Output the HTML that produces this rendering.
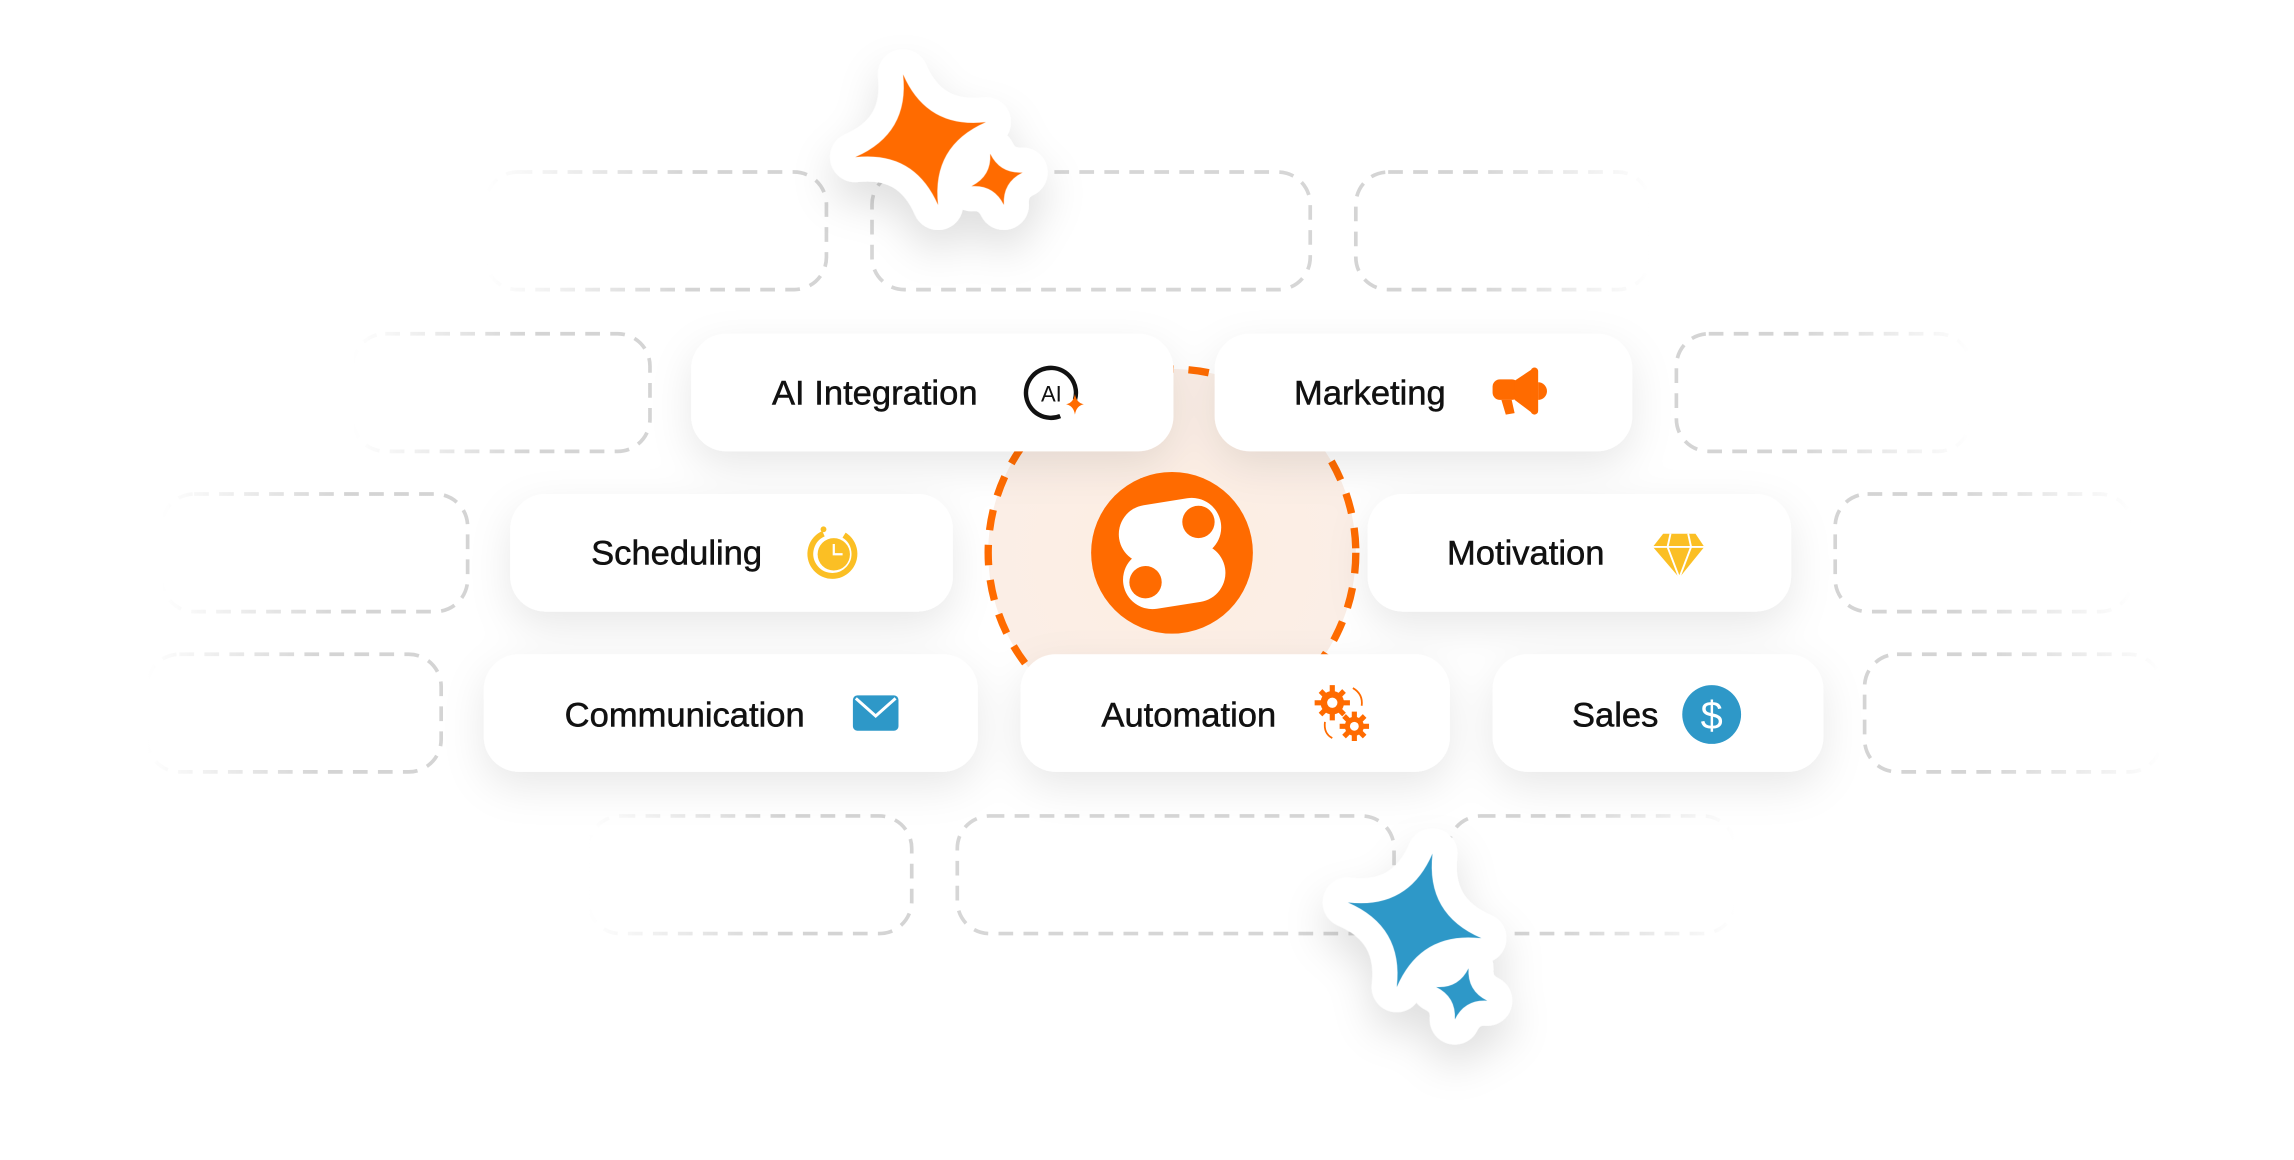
<!DOCTYPE html>
<html><head><meta charset="utf-8"><style>
html,body{margin:0;padding:0;background:#fff;}
svg{display:block;}
text{font-family:"Liberation Sans",sans-serif;font-weight:500;fill:#111;}
.lbl{stroke:#111;stroke-width:0.35;}
</style></head><body>
<svg width="2294" height="1160" viewBox="0 0 1560 789" preserveAspectRatio="none" xmlns="http://www.w3.org/2000/svg">
<defs>
<linearGradient id="fl" x1="0" y1="0" x2="1" y2="0"><stop offset="0" stop-color="#d4d4d4" stop-opacity="0"/><stop offset="0.6" stop-color="#d4d4d4"/><stop offset="1" stop-color="#d4d4d4"/></linearGradient>
<linearGradient id="fr" x1="0" y1="0" x2="1" y2="0"><stop offset="0" stop-color="#d4d4d4"/><stop offset="0.4" stop-color="#d4d4d4"/><stop offset="1" stop-color="#d4d4d4" stop-opacity="0"/></linearGradient>
<radialGradient id="peach" cx="0.5" cy="0.5" r="0.5"><stop offset="0" stop-color="#fdeee3"/><stop offset="1" stop-color="#fbeee6"/></radialGradient>
<filter id="sh" x="-30%" y="-50%" width="160%" height="220%"><feDropShadow dx="0" dy="10" stdDeviation="14" flood-color="#000" flood-opacity="0.09"/></filter>
<filter id="sh2" x="-60%" y="-60%" width="220%" height="240%"><feDropShadow dx="0" dy="14" stdDeviation="14" flood-color="#000" flood-opacity="0.12"/></filter>
</defs>
<rect width="1560" height="789" fill="#fff"/>

<g fill="none" stroke-width="2.5" stroke-dasharray="10 7">
<rect x="330" y="117" width="232" height="80" rx="22" stroke="url(#fl)"/>
<rect x="593" y="117" width="298" height="80" rx="22" stroke="#d6d6d6"/>
<rect x="922" y="117" width="200" height="80" rx="22" stroke="url(#fr)"/>
<rect x="240" y="227" width="202" height="80" rx="22" stroke="url(#fl)"/>
<rect x="1140" y="227" width="200" height="80" rx="22" stroke="url(#fr)"/>
<rect x="110" y="336" width="208" height="80" rx="22" stroke="url(#fl)"/>
<rect x="1248" y="336" width="202" height="80" rx="22" stroke="url(#fr)"/>
<rect x="100" y="445" width="200" height="80" rx="22" stroke="url(#fl)"/>
<rect x="1268" y="445" width="202" height="80" rx="22" stroke="url(#fr)"/>
<rect x="400" y="555" width="220" height="80" rx="22" stroke="url(#fl)"/>
<rect x="651" y="555" width="297" height="80" rx="22" stroke="#d6d6d6"/>
<rect x="985" y="555" width="195" height="80" rx="22" stroke="url(#fr)"/>
</g>

<circle cx="797" cy="376" r="125" fill="url(#peach)" stroke="#ff6b00" stroke-width="5" stroke-dasharray="14 10"/>

<g fill="#fff" filter="url(#sh)">
<rect x="470" y="227" width="328" height="80" rx="24"/>
<rect x="826" y="227" width="284" height="80" rx="24"/>
<rect x="347" y="336" width="301" height="80" rx="24"/>
<rect x="930" y="336" width="288" height="80" rx="24"/>
<rect x="329" y="445" width="336" height="80" rx="24"/>
<rect x="694" y="445" width="292" height="80" rx="24"/>
<rect x="1015" y="445" width="225" height="80" rx="24"/>
</g>

<g font-size="23.5" class="lbl">
<text x="525" y="275">AI Integration</text>
<text x="880" y="275">Marketing</text>
<text x="402" y="384">Scheduling</text>
<text x="984" y="384">Motivation</text>
<text x="384" y="494">Communication</text>
<text x="749" y="494">Automation</text>
<text x="1069" y="494">Sales</text>
</g>

<!-- AI icon -->
<path d="M731 272 A17 17 0 1 0 721 283" fill="none" stroke="#111" stroke-width="3"/>
<text x="715" y="273" font-size="15" font-weight="700" text-anchor="middle">AI</text>
<path d="M731 268 Q732 274 737 275 Q732 276 731 282 Q730 276 725 275 Q730 274 731 268Z" fill="#ff6b00"/>
<!-- megaphone -->
<g fill="#ff6b00">
<rect x="1015" y="258" width="18" height="14" rx="5"/>
<path d="M1030 259 L1042 251 L1042 281 L1030 272Z"/>
<rect x="1041" y="250" width="5" height="32" rx="2.5"/>
<path d="M1046 260 a6 6 0 0 1 0 12Z"/>
<path d="M1021 272 L1028 272 L1030 281 L1024 282Z"/>
</g>
<!-- clock -->
<path d="M574 364 A15 15 0 1 1 560 363" fill="none" stroke="#fbbf24" stroke-width="4"/>
<circle cx="567" cy="377" r="11" fill="#fbbf24"/>
<path d="M567 370 V377 H573" stroke="#fff" stroke-width="1.5" fill="none"/>
<circle cx="560" cy="360" r="2" fill="#fbbf24"/>
<!-- diamond -->
<path d="M1131 363 L1153 363 L1159 372 L1142 393 L1124 372Z" fill="#fbbf24"/>
<path d="M1124 372 H1159 M1136 363 L1134 372 L1142 393 L1150 372 L1148 363" stroke="#fff" stroke-width="1.3" fill="none"/>
<!-- mail -->
<rect x="580" y="473" width="31" height="24" rx="3" fill="#2e98c8"/>
<path d="M582 475 L595.5 487 L609 475" stroke="#fff" stroke-width="2" fill="none"/>
<!-- gears -->
<g fill="#ff6b00">
<circle cx="906" cy="478" r="8"/>
<circle cx="921" cy="494" r="6.5"/>
</g>
<g stroke="#ff6b00" stroke-width="3.5">
<path d="M906 466 V490 M894 478 H918 M898 470 L914 486 M914 470 L898 486"/>
<path d="M921 484 V504 M911 494 H931 M914 487 L928 501 M928 487 L914 501"/>
</g>
<circle cx="906" cy="478" r="3.5" fill="#fff"/>
<circle cx="921" cy="494" r="3" fill="#fff"/>
<path d="M920 468 Q927 472 926 480 M901 491 Q900 499 906 502" stroke="#ff6b00" stroke-width="1.2" fill="none"/>
<!-- dollar -->
<circle cx="1164" cy="486" r="20" fill="#2e98c8"/>
<text x="1164" y="496" font-size="27" font-weight="400" text-anchor="middle" style="fill:#fff">$</text>

<!-- logo -->
<circle cx="797" cy="376" r="55" fill="#ff6b00"/>
<g transform="rotate(-9 797 376)">
<rect x="763" y="341" width="70" height="40" rx="20" fill="#fff"/>
<rect x="761" y="372" width="70" height="40" rx="20" fill="#fff"/>
</g>
<circle cx="815" cy="355" r="11" fill="#ff6b00"/>
<circle cx="779" cy="396" r="11" fill="#ff6b00"/>

<!-- sparkles -->
<g filter="url(#sh2)" stroke="#fff" stroke-width="34" stroke-linejoin="round">
<g transform="translate(626 95) rotate(-15)">
<path d="M0 -46 Q6 -6 46 0 Q6 6 0 46 Q-6 6 -46 0 Q-6 -6 0 -46Z" fill="#ff6b00"/>
</g>
<g transform="translate(678 122) rotate(-15)">
<path d="M0 -18 Q3 -3 18 0 Q3 3 0 18 Q-3 3 -18 0 Q-3 -3 0 -18Z" fill="#ff6b00"/>
</g>
<g transform="translate(962 626) rotate(15)">
<path d="M0 -47 Q6 -6 47 0 Q6 6 0 47 Q-6 6 -47 0 Q-6 -6 0 -47Z" fill="#2e98c8"/>
</g>
<g transform="translate(994 676) rotate(15)">
<path d="M0 -18 Q3 -3 18 0 Q3 3 0 18 Q-3 3 -18 0 Q-3 -3 0 -18Z" fill="#2e98c8"/>
</g>
</g>
<g>
<g transform="translate(626 95) rotate(-15)"><path d="M0 -46 Q6 -6 46 0 Q6 6 0 46 Q-6 6 -46 0 Q-6 -6 0 -46Z" fill="#ff6b00"/></g>
<g transform="translate(678 122) rotate(-15)"><path d="M0 -18 Q3 -3 18 0 Q3 3 0 18 Q-3 3 -18 0 Q-3 -3 0 -18Z" fill="#ff6b00"/></g>
<g transform="translate(962 626) rotate(15)"><path d="M0 -47 Q6 -6 47 0 Q6 6 0 47 Q-6 6 -47 0 Q-6 -6 0 -47Z" fill="#2e98c8"/></g>
<g transform="translate(994 676) rotate(15)"><path d="M0 -18 Q3 -3 18 0 Q3 3 0 18 Q-3 3 -18 0 Q-3 -3 0 -18Z" fill="#2e98c8"/></g>
</g>
</svg>
</body></html>
